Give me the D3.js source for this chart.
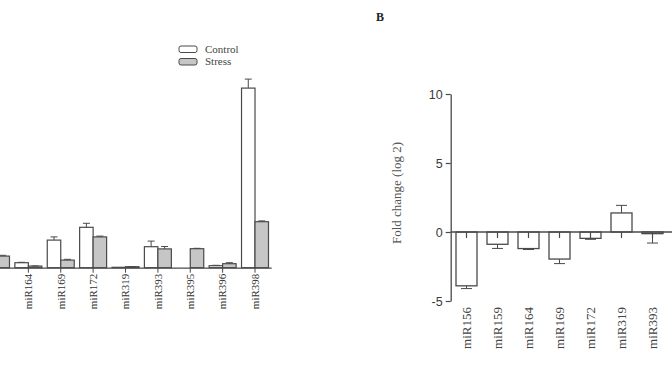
<!DOCTYPE html>
<html>
<head>
<meta charset="utf-8">
<script src="https://cdnjs.cloudflare.com/ajax/libs/d3/7.8.5/d3.min.js"></script>
<style>
  body { margin: 0; background: #fff; }
  svg { display: block; }
</style>
</head>
<body>
<div id="chart"></div>
<script>
// panel A - expression, control vs stress (left part is cropped off)
var catsA = ["miR159", "miR164", "miR169", "miR172", "miR319", "miR393", "miR395", "miR396", "miR398"];
var controlA = [5.4, 1.25, 6.9, 10.1, 0.1, 5.25, 0, 0.5, 44.9];
var controlErrA = [0.5, 0.1, 0.8, 1.0, 0, 1.4, 0, 0.1, 2.25];
var stressA = [2.9, 0.4, 1.9, 7.7, 0.25, 4.7, 4.75, 1.0, 11.5];
var stressErrA = [0.2, 0.05, 0.2, 0.2, 0.05, 0.6, 0.1, 0.25, 0.2];
var seriesA = ["Control", "Stress"];

// panel B - fold change (log 2), right part is cropped off
var catsB = ["miR156", "miR159", "miR164", "miR169", "miR172", "miR319", "miR393"];
var foldB = [-3.9, -0.89, -1.2, -1.96, -0.46, 1.38, -0.12];
var foldErrB = [0.2, 0.3, 0.07, 0.33, 0.07, 0.55, 0.68];
var yTicksB = [-5, 0, 5, 10];

var W = 672, H = 372;
var ink = "#4a4a4a";
var serif = "'Liberation Serif', 'DejaVu Serif', serif";
var sans = "'Liberation Sans', Arial, sans-serif";

var svg = d3.select("#chart")
  .append("svg")
    .attr("width", W)
    .attr("height", H);

// ---------- panel A ----------
var baseA = 267.7;
var xA = d3.scaleBand()
  .domain(catsA)
  .range([-20.2, 271.2])
  .padding(0);

var x1A = d3.scaleBand()
  .domain(seriesA)
  .range([2.7, xA.step() - 2.7])
  .padding(0);

var yA = d3.scaleLinear()
  .domain([0, 50])
  .range([baseA, baseA - 200]);

var dataA = [];
catsA.forEach(function(c, i) {
  dataA.push({cat: c, s: "Control", v: controlA[i], e: controlErrA[i]});
  dataA.push({cat: c, s: "Stress", v: stressA[i], e: stressErrA[i]});
});

var gA = svg.append("g");

gA.selectAll("rect.barA")
  .data(dataA)
  .enter()
  .append("rect")
    .attr("class", "barA")
    .attr("x", function(d) { return xA(d.cat) + x1A(d.s) })
    .attr("y", function(d) { return yA(d.v) })
    .attr("width", x1A.bandwidth())
    .attr("height", function(d) { return baseA - yA(d.v) })
    .style("fill", function(d) { return d.s == "Control" ? "#fff" : "#c6c6c6" })
    .style("stroke", ink)
    .style("stroke-width", 1.2);

// error bars (upper half only)
var errA = gA.selectAll("g.errA")
  .data(dataA.filter(function(d) { return d.e > 0 }))
  .enter()
  .append("g")
    .attr("class", "errA")
    .attr("transform", function(d) {
      return "translate(" + (xA(d.cat) + x1A(d.s) + x1A.bandwidth() / 2) + ",0)";
    });
errA.append("line")
  .attr("y1", function(d) { return yA(d.v) })
  .attr("y2", function(d) { return yA(d.v + d.e) })
  .style("stroke", ink);
errA.append("line")
  .attr("x1", -3.5).attr("x2", 3.5)
  .attr("y1", function(d) { return yA(d.v + d.e) })
  .attr("y2", function(d) { return yA(d.v + d.e) })
  .style("stroke", ink);

// x axis A
var axA = gA.append("g")
  .attr("transform", "translate(0," + baseA + ")")
  .call(d3.axisBottom(xA).tickSize(5).tickSizeOuter(0));
axA.select(".domain").attr("stroke", ink).attr("stroke-width", 1.2);
axA.selectAll(".tick line").attr("stroke", ink);
axA.selectAll(".tick text")
  .attr("transform", "translate(0,6) rotate(-90)")
  .attr("x", 0).attr("y", 0).attr("dy", "0.35em")
  .attr("text-anchor", "end")
  .style("display", function(d) { return xA(d) + xA.step() / 2 < 6 ? "none" : null })
  .style("font-family", serif)
  .style("font-size", "11px")
  .style("fill", "#333");

// legend A
var legA = gA.selectAll("g.legA")
  .data(seriesA)
  .enter()
  .append("g")
    .attr("class", "legA")
    .attr("transform", function(d, i) { return "translate(179," + (46 + i * 12.5) + ")" });
legA.append("rect")
  .attr("width", 18).attr("height", 6.5)
  .attr("rx", 2)
  .style("fill", function(d) { return d == "Control" ? "#fff" : "#c6c6c6" })
  .style("stroke", ink);
legA.append("text")
  .attr("x", 26).attr("y", 6.5)
  .text(function(d) { return d })
  .style("font-family", serif)
  .style("font-size", "11px")
  .style("fill", "#444");

// ---------- panel B ----------
var axisXB = 450.7;
var xB = d3.scaleBand()
  .domain(catsB)
  .range([451, 451 + 31 * catsB.length])
  .padding(0);
var barW = 21;

var yB = d3.scaleLinear()
  .domain([-5, 10])
  .range([301, 94]);

var dataB = catsB.map(function(c, i) { return {cat: c, v: foldB[i], e: foldErrB[i]} });

var gB = svg.append("g");

gB.append("text")
  .attr("x", 376).attr("y", 21)
  .text("B")
  .style("font-family", serif)
  .style("font-weight", "bold")
  .style("font-size", "12px")
  .style("fill", "#222");

gB.selectAll("rect.barB")
  .data(dataB)
  .enter()
  .append("rect")
    .attr("class", "barB")
    .attr("x", function(d) { return xB(d.cat) + (xB.step() - barW) / 2 })
    .attr("y", function(d) { return yB(Math.max(0, d.v)) })
    .attr("width", barW)
    .attr("height", function(d) { return Math.abs(yB(d.v) - yB(0)) })
    .style("fill", "#fff")
    .style("stroke", ink)
    .style("stroke-width", 1.3);

// error bars, away from zero
var errB = gB.selectAll("g.errB")
  .data(dataB)
  .enter()
  .append("g")
    .attr("class", "errB")
    .attr("transform", function(d) { return "translate(" + (xB(d.cat) + xB.step() / 2) + ",0)" });
var tip = function(d) { return d.v >= 0 ? yB(d.v + d.e) : yB(d.v - d.e) };
errB.append("line")
  .attr("y1", function(d) { return yB(d.v) })
  .attr("y2", tip)
  .style("stroke", ink);
errB.append("line")
  .attr("x1", -5.5).attr("x2", 5.5)
  .attr("y1", tip).attr("y2", tip)
  .style("stroke", ink);

// zero line with ticks pointing down
var axB = gB.append("g")
  .attr("transform", "translate(0," + yB(0) + ")")
  .call(d3.axisBottom(xB).tickSize(6).tickSizeOuter(0).tickFormat(""));
axB.select(".domain").remove();
axB.selectAll(".tick line").attr("stroke", ink).attr("stroke-width", 1.2);
gB.append("line")
  .attr("x1", axisXB).attr("x2", W + 5)
  .attr("y1", yB(0)).attr("y2", yB(0))
  .style("stroke", ink)
  .style("stroke-width", 1.3);

// category labels under the plot
gB.selectAll("text.labB")
  .data(catsB)
  .enter()
  .append("text")
    .attr("class", "labB")
    .attr("transform", function(d) { return "translate(" + (xB(d) + xB.step() / 2 + 4.5) + ",307) rotate(-90)" })
    .attr("text-anchor", "end")
    .text(function(d) { return d })
    .style("font-family", serif)
    .style("font-size", "13px")
    .style("fill", "#444");

// y axis B
var ayB = gB.append("g")
  .attr("transform", "translate(" + axisXB + ",0)")
  .call(d3.axisLeft(yB).tickValues(yTicksB).tickSize(5).tickPadding(3).tickSizeOuter(0)
    .tickFormat(function(d) { return String(d) }));
ayB.select(".domain").attr("stroke", ink).attr("stroke-width", 1.3);
ayB.selectAll(".tick line").attr("stroke", ink).attr("stroke-width", 1.2);
ayB.selectAll(".tick text")
  .style("font-family", sans)
  .style("font-size", "12.5px")
  .style("fill", "#3a3a3a");

gB.append("text")
  .attr("transform", "translate(401,193) rotate(-90)")
  .attr("text-anchor", "middle")
  .text("Fold change (log 2)")
  .style("font-family", serif)
  .style("font-size", "13px")
  .style("fill", "#555");
</script>
</body>
</html>
